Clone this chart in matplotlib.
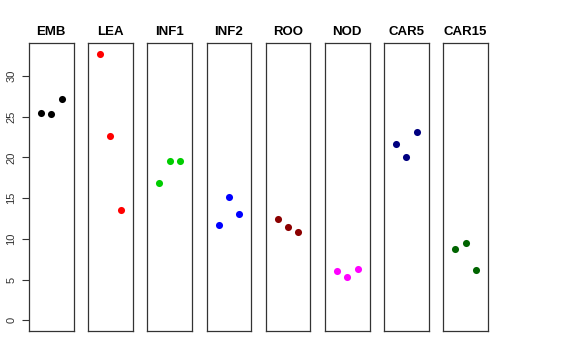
import matplotlib
matplotlib.use("Agg")
import matplotlib.pyplot as plt

# tissues and the three replicate values for each
tissues = ["EMB", "LEA", "INF1", "INF2", "ROO", "NOD", "CAR5", "CAR15"]
colors = ["black", "red", "#00cd00", "blue", "#8b0000", "magenta", "#000080", "#006400"]
values = [
    [25.4, 25.35, 27.2],
    [32.7, 22.6, 13.5],
    [16.9, 19.55, 19.5],
    [11.65, 15.1, 13.0],
    [12.4, 11.5, 10.9],
    [6.05, 5.35, 6.3],
    [21.65, 20.0, 23.1],
    [8.7, 9.55, 6.2],
]
replicates = [1, 2, 3]
ytick_values = [0, 5, 10, 15, 20, 25, 30]

W, H = 576, 360
fig = plt.figure(figsize=(W / 100, H / 100), dpi=100)

ymax = max(max(v) for v in values)
pad = 0.04 * ymax

for i, (name, col, vals) in enumerate(zip(tissues, colors, values)):
    left = 29 + i * 59.2
    ax = fig.add_axes([left / W, 1 - 331 / H, 44.5 / W, (331 - 43.3) / H])
    ax.scatter(replicates, vals, color=col, s=26, zorder=3, linewidths=0)
    ax.set_xlim(-0.16, 4.16)
    ax.set_ylim(-pad, ymax + pad)
    ax.set_xticks([])
    for sp in ax.spines.values():
        sp.set_color("#333333")
        sp.set_linewidth(0.9)
    ax.set_title(name, fontsize=9.5, fontweight="bold", pad=6,
                 family="Liberation Sans")
    if i == 0:
        ax.set_yticks(ytick_values)
        ax.set_yticklabels([str(t) for t in ytick_values], rotation=90,
                           va="center", fontsize=8, color="#333333",
                           family="Liberation Sans")
        ax.tick_params(axis="y", length=5, width=0.8, color="#333333", pad=4)
    else:
        ax.set_yticks([])

fig.savefig("out.png", dpi=100)
